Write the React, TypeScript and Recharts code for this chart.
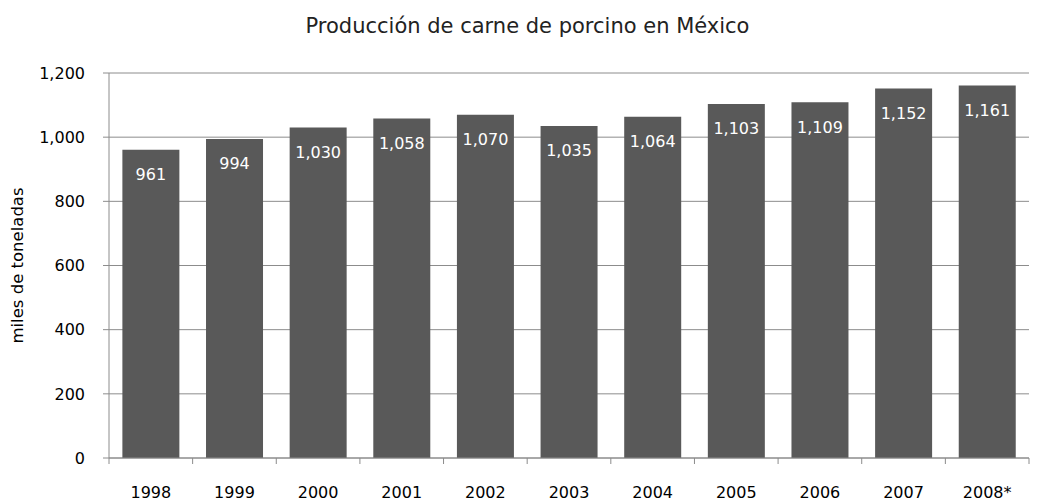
import { BarChart, Bar, XAxis, YAxis, CartesianGrid, LabelList } from "recharts";

const years = ["1998", "1999", "2000", "2001", "2002", "2003", "2004", "2005", "2006", "2007", "2008*"];
const production = [961, 994, 1030, 1058, 1070, 1035, 1064, 1103, 1109, 1152, 1161];
const yTicks = [0, 200, 400, 600, 800, 1000, 1200];

const data = years.map((year, i) => ({ year, value: production[i] }));

const FONT = "'DejaVu Sans', sans-serif";
const AXIS = "#8c8c8c";
const W = 1039;
const H = 504;
const M = { top: 73, right: 10, left: 0, bottom: 0 };
const Y_WIDTH = 109;
const BAND = (W - M.left - M.right - Y_WIDTH) / years.length;

const fmt = (v: number) => v.toLocaleString("en-US");

const YearTick = (props: any) => {
  const { x, y, payload, index } = props;
  const half = BAND / 2;
  return (
    <g>
      <line x1={x - half} y1={y - 8} x2={x - half} y2={y - 2} stroke={AXIS} strokeWidth={1} />
      {index === years.length - 1 && (
        <line x1={x + half} y1={y - 8} x2={x + half} y2={y - 2} stroke={AXIS} strokeWidth={1} />
      )}
      <text x={x} y={y + 32} textAnchor="middle" fill="#000" fontSize={16} fontFamily={FONT}>
        {payload.value}
      </text>
    </g>
  );
};

export default function App() {
  return (
    <div style={{ position: "absolute", left: 0, top: 0, width: W, height: H, background: "#fff" }}>
      <div
        style={{
          position: "absolute",
          top: 14,
          left: 8,
          width: W,
          textAlign: "center",
          fontFamily: FONT,
          fontSize: 21,
          color: "#222",
        }}
      >
        Producción de carne de porcino en México
      </div>
      <BarChart width={W} height={H} data={data} margin={M} barCategoryGap="16%">
        <CartesianGrid vertical={false} stroke={AXIS} strokeWidth={1} />
        <XAxis
          dataKey="year"
          height={46}
          tickLine={false}
          axisLine={{ stroke: AXIS }}
          tick={<YearTick />}
          interval={0}
        />
        <YAxis
          width={Y_WIDTH}
          domain={[0, 1200]}
          ticks={yTicks}
          tickFormatter={fmt}
          tickSize={6}
          tickMargin={18}
          tickLine={{ stroke: AXIS }}
          axisLine={{ stroke: AXIS }}
          tick={{ fill: "#000", fontSize: 16, fontFamily: FONT }}
          label={{
            value: "miles de toneladas",
            angle: -90,
            position: "insideLeft",
            offset: 17,
            style: { textAnchor: "middle", fontSize: 16.5, fontFamily: FONT, fill: "#000" },
          }}
        />
        <Bar dataKey="value" fill="#595959" isAnimationActive={false}>
          <LabelList
            dataKey="value"
            position="insideTop"
            offset={19}
            formatter={(v: any) => fmt(Number(v))}
            style={{ fill: "#fff", fontSize: 16, fontFamily: FONT }}
          />
        </Bar>
      </BarChart>
    </div>
  );
}
